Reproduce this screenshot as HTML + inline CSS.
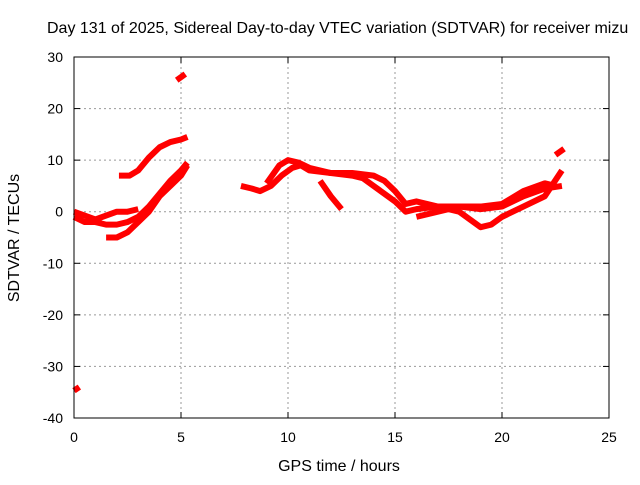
<!DOCTYPE html>
<html><head><meta charset="utf-8"><style>
body{margin:0;background:#fff;}
svg text{font-family:"Liberation Sans",sans-serif;font-size:14px;fill:#000;}
svg text.big{font-size:16px;}
</style></head><body>
<svg id="chart" width="640" height="480" xmlns="http://www.w3.org/2000/svg">
<rect width="640" height="480" fill="#fff"/>
<text class="big" x="47" y="33">Day 131 of 2025, Sidereal Day-to-day VTEC variation (SDTVAR) for receiver mizu</text>
<text class="big" x="339" y="471" text-anchor="middle">GPS time / hours</text>
<text class="big" x="0" y="0" transform="translate(19,238) rotate(-90)" text-anchor="middle">SDTVAR / TECUs</text>
<g id="grid"></g><g id="ticks"></g><g id="series"></g>
<rect x="74" y="57" width="535" height="361" fill="none" stroke="#000" stroke-width="1"/>
</svg>
<script>
const xTicks=[0,5,10,15,20,25];
const yTicks=[30,20,10,0,-10,-20,-30,-40];
const segA_x=[0,0.25], segA_y=[-34.7,-34];
const segB_x=[0,0.5,1,1.5,2,2.5,3,3.5,4,4.5,5,5.3], segB_y=[-1,-2,-2,-2.5,-2.5,-2,-1,1,3.5,6,8,9.5];
const segC_x=[1.5,2,2.5,3,3.5,4,4.5,5,5.3], segC_y=[-5,-5,-4,-2,0,3,5,7,9];
const segD_x=[2.1,2.6,3,3.5,4,4.5,5,5.3], segD_y=[7,7,8,10.5,12.5,13.5,14,14.5];
const segE_x=[4.8,5.2], segE_y=[25.5,26.7];
const segF_x=[0,1,2,2.5,3], segF_y=[0,-1.5,0,0,0.5];
const segG_x=[7.8,8.3,8.7,9.2,9.7,10.2,10.6,11,12,13,13.5,14,14.5,15,15.5,16,17,18,19,20,21,22,22.8], segG_y=[5,4.5,4,5,7,8.5,9,8,7.5,7,6.5,5,3.5,2,0,0.5,1,1,0.5,1,3,4.5,5];
const segH_x=[9,9.6,10,10.5,11,12,13,14,14.5,15,15.5,16,17,18,19,19.5,20,21,22,22.8], segH_y=[5.5,9,10,9.5,8.5,7.5,7.5,7,6,4,1.5,2,1,0,-3,-2.5,-1,1,3,8];
const segI_x=[11.5,12,12.5], segI_y=[6,3,0.5];
const segJ_x=[22.5,22.9], segJ_y=[11,12.2];
const segK_x=[16,17,18,19,20,21,22,22.5], segK_y=[-1,0,1,1,1.5,4,5.5,5];
const segs=[[segA_x,segA_y],[segB_x,segB_y],[segC_x,segC_y],[segD_x,segD_y],[segE_x,segE_y],[segF_x,segF_y],[segG_x,segG_y],[segH_x,segH_y],[segI_x,segI_y],[segJ_x,segJ_y],[segK_x,segK_y]];
const NS="http://www.w3.org/2000/svg";
function sx(v){return 74+(v-0)*(609-74)/25;}
function sy(v){return 418-(v+40)*(418-57)/70;}
const grid=document.getElementById('grid'),ticks=document.getElementById('ticks'),ser=document.getElementById('series');
function mk(tag,at,parent){const e=document.createElementNS(NS,tag);for(const k in at)e.setAttribute(k,at[k]);parent.appendChild(e);return e;}
xTicks.forEach(t=>{const X=sx(t);
 if(t>0&&t<25){const g=mk('line',{x1:X,x2:X,y1:57,y2:418,stroke:'#999','stroke-dasharray':'2,3'},grid);
 
 }
 mk('line',{x1:X,x2:X,y1:418,y2:412,stroke:'#000'},ticks);mk('line',{x1:X,x2:X,y1:57,y2:63,stroke:'#000'},ticks);
 const tx=mk('text',{x:X,y:442,'text-anchor':'middle'},ticks);tx.textContent=t;
 
 });
yTicks.forEach(t=>{const Y=sy(t);
 if(t>-40&&t<30){const g=mk('line',{x1:74,x2:609,y1:Y,y2:Y,stroke:'#999','stroke-dasharray':'2,3'},grid);
 
 }
 mk('line',{x1:74,x2:80,y1:Y,y2:Y,stroke:'#000'},ticks);mk('line',{x1:603,x2:609,y1:Y,y2:Y,stroke:'#000'},ticks);
 const tx=mk('text',{x:63,y:Y+5,'text-anchor':'end'},ticks);tx.textContent=t;
 
 });
segs.forEach(s=>{const pts=s[0].map((x,i)=>sx(x)+','+sy(s[1][i])).join(' ');
 const p=mk('polyline',{points:pts,fill:'none',stroke:'#f00','stroke-width':6,'stroke-linejoin':'round','stroke-linecap':'butt'},ser);
 
 });
</script>
</body></html>
